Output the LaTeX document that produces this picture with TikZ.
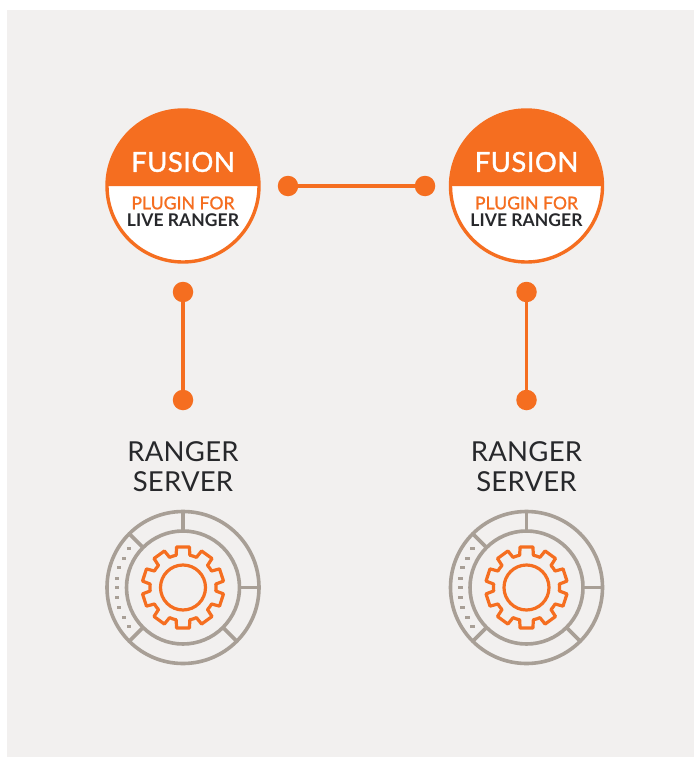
\documentclass[tikz,border=0pt]{standalone}
\usepackage{fontspec}
\setmainfont{Lato}
\definecolor{fusionorange}{HTML}{F56E20}
\definecolor{panelgrey}{HTML}{F2F0EF}
\definecolor{ringgrey}{HTML}{A89F96}
\definecolor{textdark}{HTML}{27282B}
\usetikzlibrary{calc}
\tikzset{
	enddot/.style={circle,fill=fusionorange,inner sep=0pt,minimum size=20.5pt},
	link/.style={draw=fusionorange,line width=3.2pt},
	ring/.style={draw=ringgrey,line width=3.6pt},
	gearline/.style={draw=fusionorange,line width=3.2pt,line join=round},
	title/.style={text=white,font=\fontsize{27.5}{27.5}\selectfont\addfontfeature{LetterSpace=1.6,FakeBold=1.2}},
	pluginline/.style={font=\fontsize{17.5}{17.5}\selectfont},
	servername/.style={text=textdark,align=center,font=\fontsize{27.5}{30}\selectfont\addfontfeature{LetterSpace=0.8}},
}
\begin{document}
\begin{tikzpicture}[x=1pt,y=-1pt]
	\useasboundingbox (0,0) rectangle (694,757);
	\fill[white] (0,0) rectangle (694,757);
	\fill[panelgrey] (7,10) rectangle (694,757);
	% one column per server
	\foreach \x/\n in {183/a,526.5/b} {
		\begin{scope}[shift={(\x,0)}]
			% badge
			\fill[white] (0,186) circle (76);
			\fill[fusionorange] (-76,186) arc[start angle=180,end angle=360,radius=76] -- cycle;
			\draw[draw=fusionorange,line width=3.4pt] (0,186) circle (76);
			\node[title] (title\n) at (0,162) {FUSION};
			\node[pluginline,text=fusionorange] (plugin\n) at (0,203) {\addfontfeature{LetterSpace=0.6,FakeBold=1.2}PLUGIN FOR};
			\node[pluginline,text=textdark] (live\n) at (0,220) {\addfontfeature{LetterSpace=0.3}\textbf{LIVE RANGER}};
			% link down to server
			\node[enddot] (top\n) at (0,292) {};
			\node[enddot] (bottom\n) at (0,400) {};
			\draw[link] (top\n) -- (bottom\n);
			\node[servername] (server\n) at (0,467) {RANGER\\SERVER};
			% rings
			\draw[ring] (0,587.5) circle (76);
			\draw[ring] (0,587.5) circle (56.5);
			\foreach \a in {0,-90,45,135,-135} {
				\draw[ring] ($(0,587.5)+(\a:56.5)$) -- ($(0,587.5)+(\a:76)$);
			}
			% dots in the ring
			\foreach \dx/\dy in {-54/-39,-59/-29,-64/-20,-66/-9,-66/0,-66/10,-64/20,-59/30,-54/39} {
				\fill[ringgrey] ($(0,587.5)+(\dx-2.4,\dy-1.8)$) rectangle ($(0,587.5)+(\dx+2.4,\dy+1.8)$);
			}
			% gear
			\draw[gearline] (0,587.5) circle (22.5);
			\draw[gearline,shift={(0,587.5)}] (72:33)
				\foreach \t in {0,36,...,324} {
					-- (\t+78:33) -- (\t+81:41) -- (\t+99:41) -- (\t+102:33) -- (\t+108:33)
				} -- cycle;
		\end{scope}
	}
	% link between the fusion nodes
	\node[enddot] (linkl) at (288,186) {};
	\node[enddot] (linkr) at (425,186) {};
	\draw[link] (linkl) -- (linkr);
\end{tikzpicture}
\end{document}
